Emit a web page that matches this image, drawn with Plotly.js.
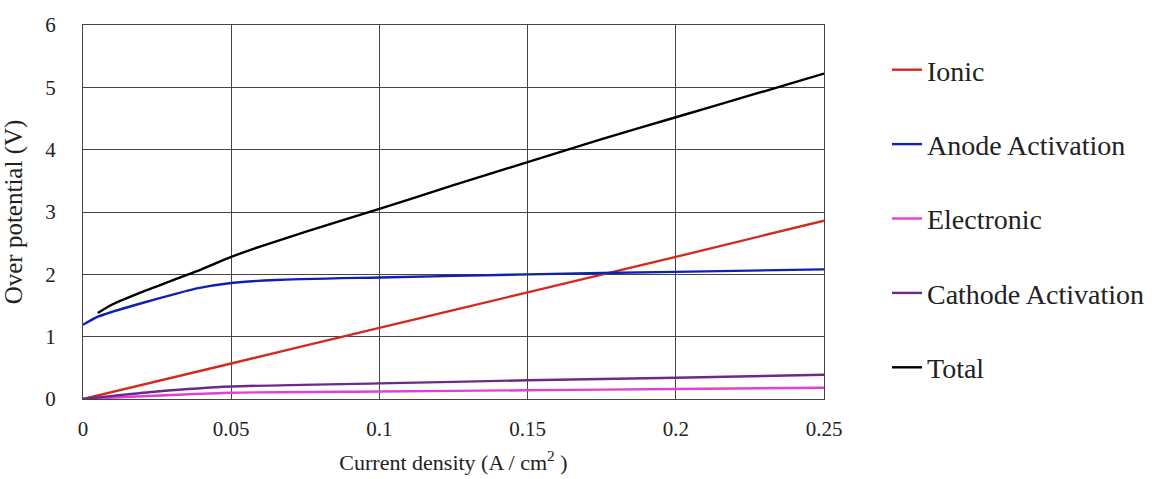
<!DOCTYPE html>
<html>
<head>
<meta charset="utf-8">
<script src="https://cdn.plot.ly/plotly-3.0.1.min.js"></script>
<style>body{margin:0;background:#fff}#chart{width:1166px;height:479px}</style>
</head>
<body>
<div id="chart"></div>
<script>
const seriesNames = ["Ionic", "Anode Activation", "Electronic", "Cathode Activation", "Total"];
const seriesColors = ["#d42a1e", "#1020b0", "#e040d8", "#6a2a8a", "#000000"];

const xTickVals = [0, 0.05, 0.1, 0.15, 0.2, 0.25];
const xTickText = ["0", "0.05", "0.1", "0.15", "0.2", "0.25"];

const ionicX = [0, 0.05, 0.1, 0.15, 0.2, 0.25];
const ionicY = [0, 0.57, 1.14, 1.71, 2.28, 2.86];

const anodeX = [0, 0.005, 0.01, 0.02, 0.03, 0.038, 0.05, 0.065, 0.1, 0.15, 0.2, 0.25];
const anodeY = [1.19, 1.32, 1.4, 1.54, 1.67, 1.77, 1.86, 1.91, 1.95, 2.0, 2.04, 2.08];

const electronicX = [0, 0.05, 0.1, 0.15, 0.2, 0.25];
const electronicY = [0, 0.1, 0.12, 0.14, 0.16, 0.18];

const cathodeX = [0, 0.01, 0.025, 0.05, 0.1, 0.15, 0.2, 0.25];
const cathodeY = [0, 0.05, 0.12, 0.2, 0.25, 0.3, 0.34, 0.39];

const totalX = [0.005, 0.01, 0.02, 0.03, 0.04, 0.05, 0.06, 0.075, 0.1, 0.125, 0.15, 0.175, 0.2, 0.225, 0.25];
const totalY = [1.38, 1.52, 1.72, 1.9, 2.08, 2.28, 2.45, 2.68, 3.05, 3.43, 3.8, 4.17, 4.52, 4.87, 5.22];

const xs = [ionicX, anodeX, electronicX, cathodeX, totalX];
const ys = [ionicY, anodeY, electronicY, cathodeY, totalY];

const fam = "'Liberation Serif', 'Times New Roman', serif";

const traces = seriesNames.map((n, i) => ({
  x: xs[i], y: ys[i], name: n, type: "scatter", mode: "lines",
  line: {color: seriesColors[i], width: 2.4, shape: "spline", smoothing: 0.6},
  legendgroup: "g" + i
}));

const layout = {
  width: 1166, height: 479,
  margin: {l: 83, r: 342, t: 25, b: 80},
  paper_bgcolor: "#fff", plot_bgcolor: "#fff",
  font: {family: fam, size: 20, color: "#222"},
  showlegend: true,
  legend: {
    x: 1.085, xanchor: "left", y: 0.9465, yanchor: "top",
    traceorder: "grouped", tracegroupgap: 35,
    font: {family: fam, size: 28, color: "#222"},
    bgcolor: "rgba(0,0,0,0)"
  },
  xaxis: {
    range: [0, 0.25], tickvals: xTickVals, ticktext: xTickText,
    showgrid: true, gridcolor: "#444", gridwidth: 1,
    showline: true, linecolor: "#444", linewidth: 1, mirror: true,
    zeroline: false, ticks: "", ticklabelstandoff: 11,
    tickfont: {family: fam, size: 21, color: "#222"},
    title: {text: "Current density (A / cm<sup>2</sup> )", font: {family: fam, size: 22, color: "#222"}, standoff: 14}
  },
  yaxis: {
    range: [0, 6], dtick: 1,
    showgrid: true, gridcolor: "#444", gridwidth: 1,
    showline: true, linecolor: "#444", linewidth: 1, mirror: true,
    zeroline: false, ticks: "", ticklabelstandoff: 22,
    tickfont: {family: fam, size: 21, color: "#222"},
    title: {text: "Over potential (V)", font: {family: fam, size: 25, color: "#222"}, standoff: 19}
  }
};

Plotly.newPlot("chart", traces, layout, {displayModeBar: false, staticPlot: true});
</script>
</body>
</html>
